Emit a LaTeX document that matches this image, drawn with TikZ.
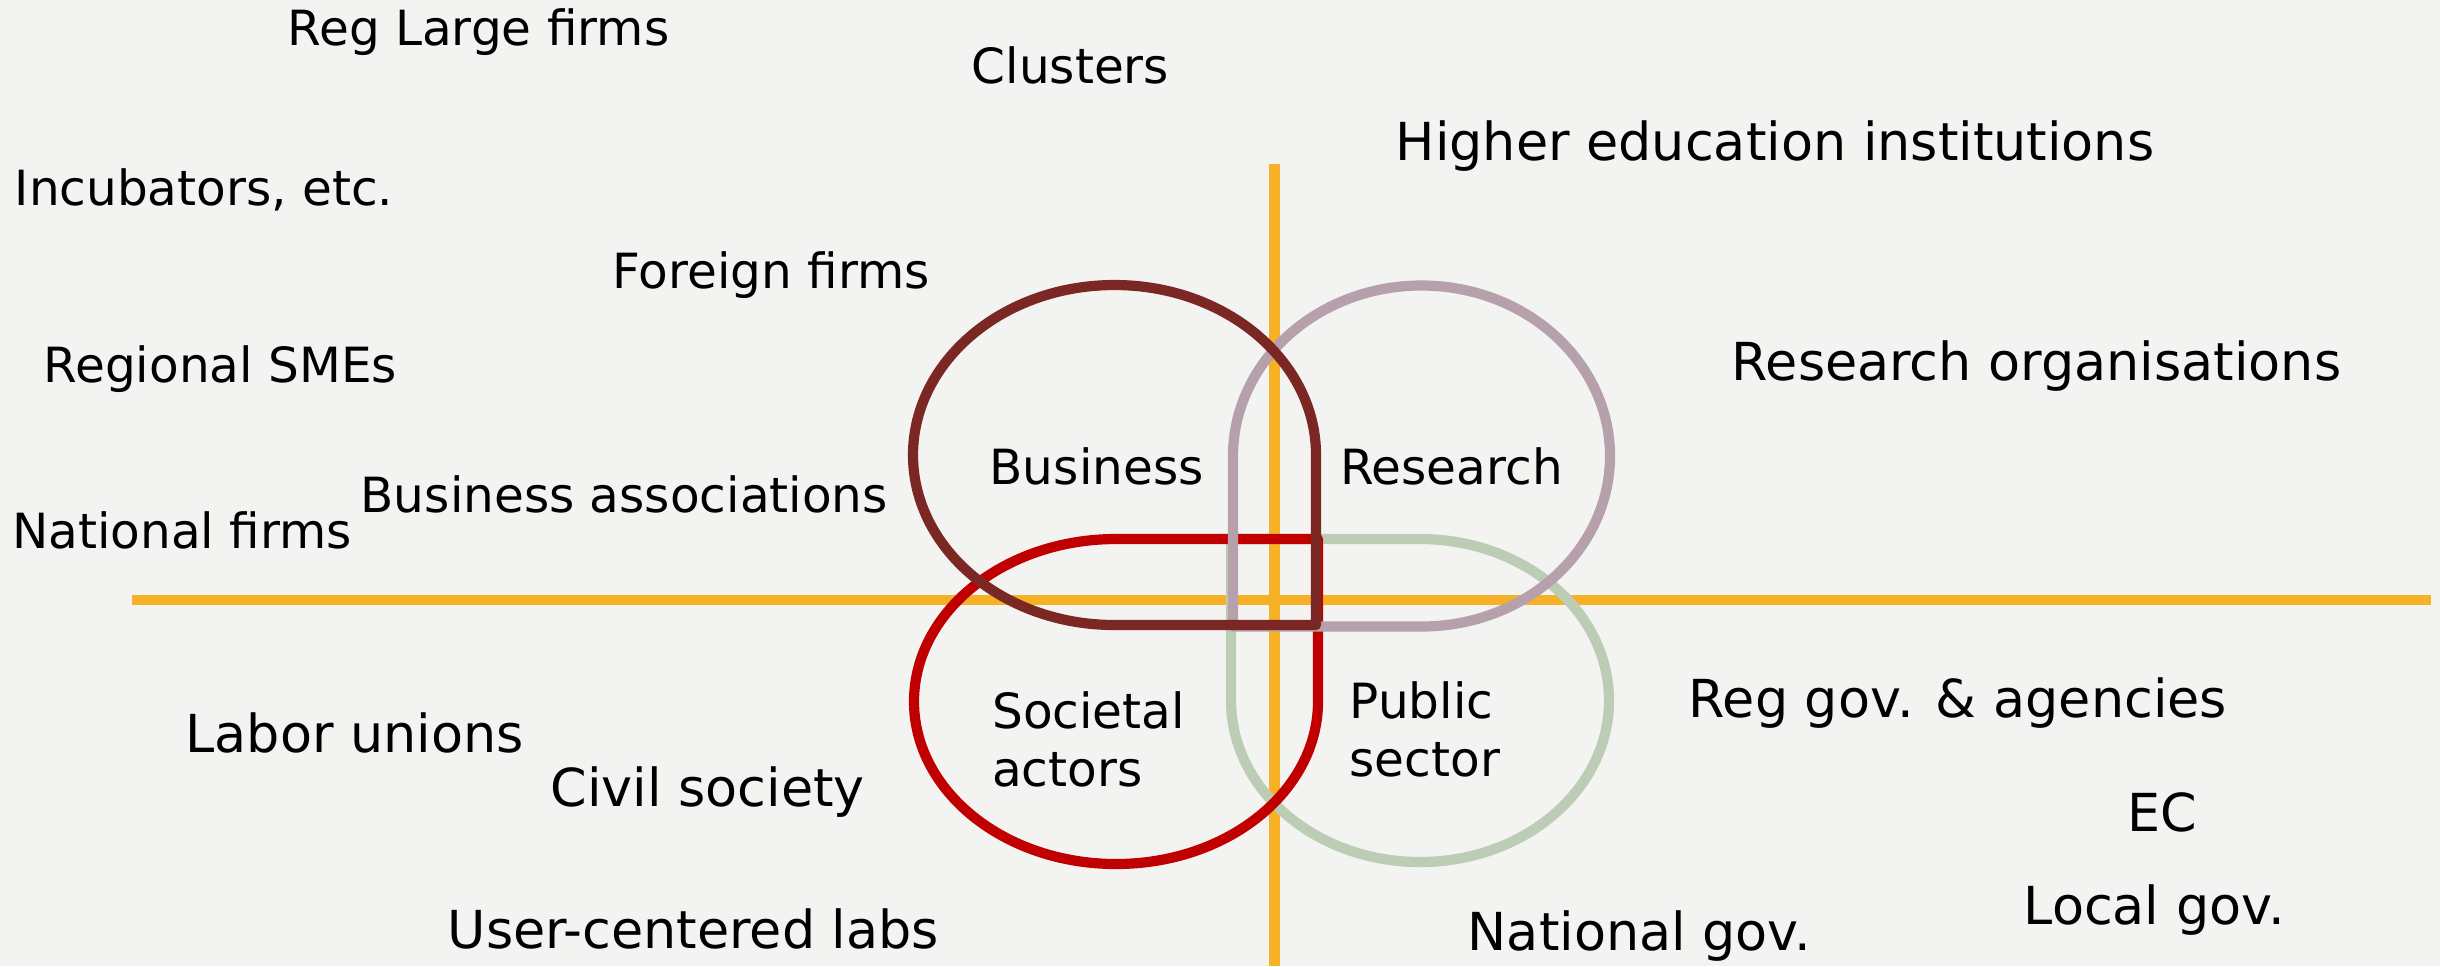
\documentclass[tikz,border=0pt]{standalone}
\usepackage{fontspec}
\setmainfont{DejaVu Sans}
\definecolor{bg}{HTML}{F3F3F1}
\definecolor{axis}{HTML}{F6B127}
\definecolor{bizcol}{HTML}{7B2824}
\definecolor{rescol}{HTML}{B5A0AC}
\definecolor{soccol}{HTML}{C00000}
\definecolor{pubcol}{HTML}{BBCEB5}

\begin{document}
\begin{tikzpicture}[line join=round,
	sm/.style={anchor=base west,inner sep=0pt,font=\fontsize{13.8pt}{16.4pt}\selectfont},
	lg/.style={anchor=base west,inner sep=0pt,font=\fontsize{14.9pt}{18pt}\selectfont},
	blob/.style={line width=2.9pt}]
	\useasboundingbox (0,0) rectangle (24.40,-9.66);
	\fill [bg] (0,0) rectangle (24.40,-9.66);
	% axes
	\draw [axis,line width=3.1pt] (1.32,-6.00) -- (24.31,-6.00);
	\draw [axis,line width=3.1pt] (12.745,-1.64) -- (12.745,-9.66);
	% the four actor groups
	\draw [blob,pubcol] (12.31,-7.005) -- (12.31,-5.39) -- (14.20,-5.39)
		arc [start angle=90,end angle=-180,x radius=1.89,y radius=1.615] -- cycle;
	\draw [blob,soccol] (11.16,-5.39) -- (13.18,-5.39) -- (13.18,-7.015)
		arc [start angle=0,end angle=-270,x radius=2.02,y radius=1.625] -- cycle;
	\draw [blob,rescol] (12.33,-4.56) -- (12.33,-6.265) -- (14.215,-6.265)
		arc [start angle=-90,end angle=180,x radius=1.885,y radius=1.705] -- cycle;
	\draw [blob,bizcol] (13.16,-4.55) -- (13.16,-6.25) -- (11.145,-6.25)
		arc [start angle=270,end angle=0,x radius=2.015,y radius=1.70] -- cycle;
	% labels
	\node (biz) at (9.89,-4.846) [sm] {Business};
	\node (res) at (13.395,-4.846) [sm] {Research};
	\node (soc) at (9.915,-7.86) [sm,align=left] {Societal\\actors};
	\node (pub) at (13.49,-7.76) [sm,align=left] {Public\\sector};
	\node (reglarge) at (2.87,-0.457) [sm] {Reg Large firms};
	\node (clusters) at (9.71,-0.833) [sm] {Clusters};
	\node (heis) at (13.95,-1.60) [lg] {Higher education institutions};
	\node (incub) at (0.14,-2.05) [sm] {Incubators, etc.};
	\node (foreign) at (6.12,-2.885) [sm] {Foreign firms};
	\node (smes) at (0.43,-3.82) [sm] {Regional SMEs};
	\node (rtos) at (17.31,-3.80) [lg] {Research organisations};
	\node (bizassoc) at (3.60,-5.12) [sm] {Business associations};
	\node (natfirms) at (0.115,-5.48) [sm] {National firms};
	\node (regov) at (16.88,-7.17) [lg] {Reg gov. \& agencies};
	\node (unions) at (1.85,-7.52) [lg] {Labor unions};
	\node (civil) at (5.50,-8.06) [lg] {Civil society};
	\node (ec) at (21.27,-8.31) [lg] {EC};
	\node (localgov) at (20.23,-9.24) [lg] {Local gov.};
	\node (natgov) at (14.67,-9.50) [lg] {National gov.};
	\node (userlabs) at (4.47,-9.48) [lg] {User-centered labs};
\end{tikzpicture}
\end{document}
